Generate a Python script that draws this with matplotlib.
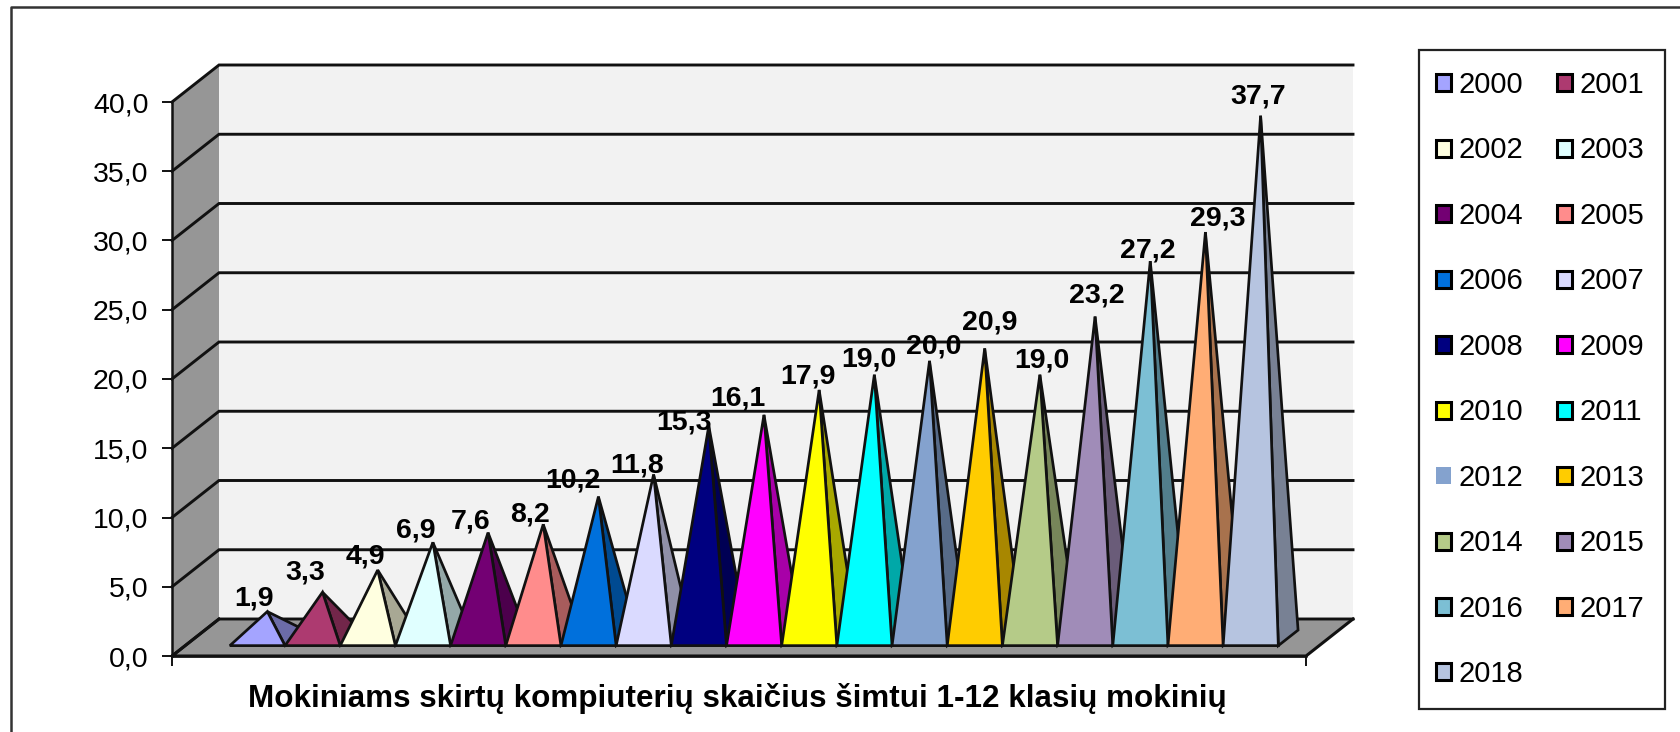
import matplotlib
matplotlib.use('Agg')
import matplotlib.pyplot as plt
from matplotlib.patches import Patch, Polygon, Rectangle

# ── Data ───────────────────────────────────────────────────────────────────────
YEARS = list(range(2000, 2019))
VALUES = [1.9, 3.3, 4.9, 6.9, 7.6, 8.2, 10.2, 11.8, 15.3, 16.1,
          17.9, 19.0, 20.0, 20.9, 19.0, 23.2, 27.2, 29.3, 37.7]
COLORS = ['#A4A4FF', '#AD3A70', '#FFFFE0', '#E0FFFF', '#730073', '#FF8C8C',
          '#0070DC', '#DADAFF', '#000080', '#FF00FF', '#FFFF00', '#00FFFF',
          '#84A2CE', '#FFCC00', '#B5CB88', '#A08CB8', '#7CBFD4', '#FFAD75',
          '#B6C4E0']
Y_TICKS = [0, 5, 10, 15, 20, 25, 30, 35, 40]
TITLE = 'Mokiniams skirtų kompiuterių skaičius šimtui 1-12 klasių mokinių'
# nudge of each value label from its apex, pixels
LABEL_DX = [-13, -17, -12, -17, -17, -13, -25, -16, -25, -26,
            -11, -5, 4, 5, 2, 2, -2, 12, -2]
LABEL_DY = [0.5, 7, 0.5, -1.6, -1.6, -2.7, 2.6, -4, -10, 3.7,
            0.5, 2.6, 1.5, 13, 1.5, 8, -2.7, 0.5, 6]

# ── Layout (pixels in the 1681x732 picture) ────────────────────────────────────
W, H = 1681, 732
LEFT, RIGHT, TOP, BOTTOM = 172, 1306, 102, 656
DEPTH_X, DEPTH_Y = 47, 37     # how far the back wall sits from the front plane
BASE_D0, BASE_D1 = 0.28, 0.70  # depth span of a pyramid base on the floor
FONT = 20

plt.rcParams['font.family'] = ['Liberation Sans', 'DejaVu Sans']
fig = plt.figure(figsize=(W / 100, H / 100), dpi=100)
ax = fig.add_axes([LEFT / W, 1 - BOTTOM / H, (RIGHT - LEFT) / W, (BOTTOM - TOP) / H])
ax.set_xlim(-1.31, 19.24)
ax.set_ylim(0, 40)

x_per_px = (ax.get_xlim()[1] - ax.get_xlim()[0]) / (RIGHT - LEFT)
y_per_px = 40 / (BOTTOM - TOP)
x0, x1 = ax.get_xlim()


def proj(x, y, d):
    # front-plane data position pushed d (0..1) back into the fake 3D depth
    return x + d * DEPTH_X * x_per_px, y + d * DEPTH_Y * y_per_px


def poly(points, color, z, lw=2.7, edge='#111111'):
    ax.add_patch(Polygon(points, closed=True, facecolor=color, edgecolor=edge,
                         linewidth=lw * 0.72, zorder=z, clip_on=False,
                         joinstyle='miter'))


def darker(color, k=0.66):
    rgb = matplotlib.colors.to_rgb(color)
    return tuple(c * k for c in rgb)


# ── Walls and floor ────────────────────────────────────────────────────────────
WALL = '#F2F2F2'
SIDE = '#969696'
ax.add_patch(Polygon([proj(x0, 0, 1), proj(x1, 0, 1), proj(x1, 40, 1), proj(x0, 40, 1)],
                     facecolor=WALL, edgecolor='none', zorder=1, clip_on=False))
ax.add_patch(Polygon([proj(x0, 0, 0), proj(x0, 0, 1), proj(x0, 40, 1), proj(x0, 40, 0)],
                     facecolor=SIDE, edgecolor='none', zorder=1, clip_on=False))
ax.add_patch(Polygon([proj(x0, 0, 0), proj(x1, 0, 0), proj(x1, 0, 1), proj(x0, 0, 1)],
                     facecolor=SIDE, edgecolor='none', zorder=1, clip_on=False))

for t in Y_TICKS:
    bx, by = proj(x0, t, 1)
    ex, ey = proj(x1, t, 1)
    fx, fy = proj(x0, t, 0)
    ax.plot([fx, bx, ex], [fy, by, ey], color='#111111', lw=2.1, zorder=2,
            clip_on=False, solid_joinstyle='miter')

# outline of the floor
corner = [proj(x0, 0, 1), proj(x0, 0, 0), proj(x1, 0, 0), proj(x1, 0, 1)]
ax.plot([p[0] for p in corner], [p[1] for p in corner], color='#111111', lw=2.2,
        zorder=2, clip_on=False)

# ── Pyramids ───────────────────────────────────────────────────────────────────
for i, (val, col) in enumerate(zip(VALUES, COLORS)):
    l, r = i - 0.5, i + 0.5
    apex = proj(i, val, (BASE_D0 + BASE_D1) / 2)
    poly([proj(r, 0, BASE_D0), proj(r, 0, BASE_D1), apex], darker(col), 3 + i * 0.01)
    poly([proj(l, 0, BASE_D0), proj(r, 0, BASE_D0), apex], col, 3 + i * 0.01 + 0.005)
    ax.annotate(f'{val:.1f}'.replace('.', ','), xy=apex,
                xytext=(LABEL_DX[i] * 0.72, LABEL_DY[i] * 0.72), textcoords='offset points',
                ha='center', va='bottom', fontsize=FONT + 0.5, fontweight='bold',
                color='black', zorder=10, annotation_clip=False)

# ── Axes ───────────────────────────────────────────────────────────────────────
ax.patch.set_visible(False)
for side in ['top', 'right']:
    ax.spines[side].set_visible(False)
for side in ['left', 'bottom']:
    ax.spines[side].set_linewidth(1.8)
    ax.spines[side].set_color('#111111')
    ax.spines[side].set_zorder(2.5)
ax.set_yticks(Y_TICKS)
ax.set_yticklabels([f'{t:.1f}'.replace('.', ',') for t in Y_TICKS], fontsize=FONT + 0.5)
ax.set_xticks([x0, x1])
ax.set_xticklabels([])
ax.tick_params(axis='both', length=7.5, width=1.4, color='#111111', pad=9.5)
ax.tick_params(axis='x', pad=4)

fig.text(737 / W, 1 - 698 / H, TITLE, ha='center', va='center', fontsize=22.6,
         fontweight='bold', color='black')

# ── Legend (row order 2000 2001 / 2002 2003 / ...) ─────────────────────────────
fig.add_artist(Rectangle((1419 / W, 1 - 709 / H), (1665 - 1419) / W, (709 - 50) / H,
                         transform=fig.transFigure, facecolor='white',
                         edgecolor='#222222', linewidth=1.6))
handles = []
for y, col in zip(YEARS, COLORS):
    edge = 'none' if y == 2012 else 'black'
    handles.append(Patch(facecolor=col, edgecolor=edge, linewidth=2.2, label=str(y)))
ordered = handles[0::2] + handles[1::2]
leg = fig.legend(handles=ordered, ncol=2, loc='upper left',
                 bbox_to_anchor=(1436 / W, 1 - 71 / H), borderaxespad=0,
                 fontsize=FONT + 1, frameon=False,
                 handlelength=0.52, handleheight=0.52, handletextpad=0.25,
                 columnspacing=1.16, labelspacing=1.285, borderpad=0)

# ── Outer frame: only left and top edges are inside the crop ───────────────────
fig.add_artist(plt.Line2D([11 / W, 11 / W, 1], [0, 1 - 7 / H, 1 - 7 / H],
                          color='#333333', lw=1.8))

fig.savefig('out.png', dpi=100)
